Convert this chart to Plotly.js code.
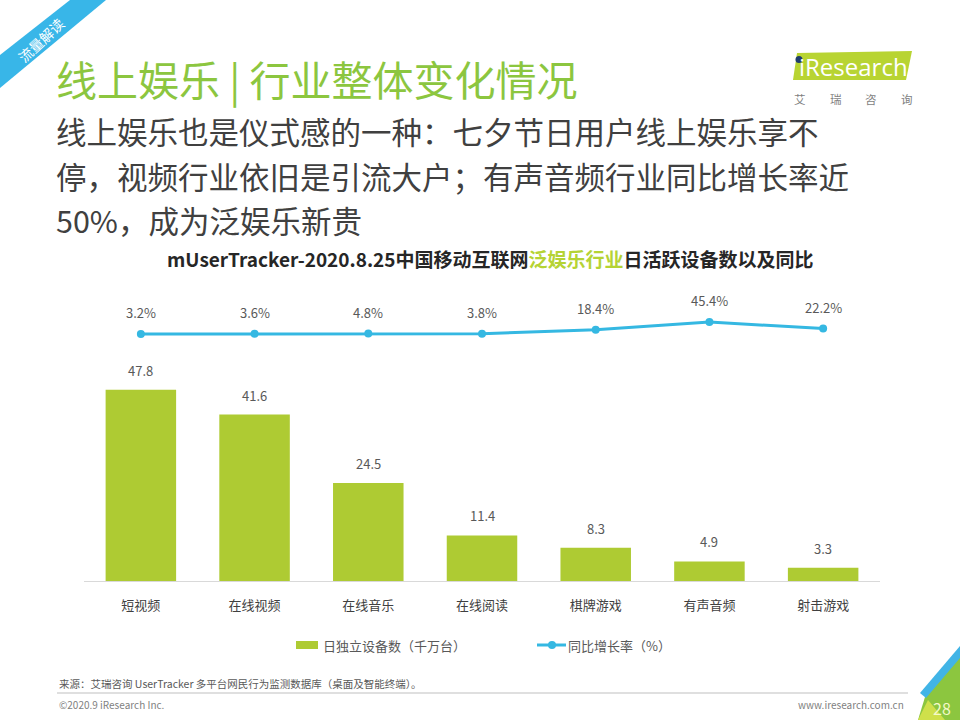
<!DOCTYPE html>
<html>
<head>
<meta charset="utf-8">
<script src="https://cdn.plot.ly/plotly-3.0.1.min.js"></script>
<style>html,body{margin:0;padding:0;background:#fff;}#chart{width:960px;height:720px;}</style>
</head>
<body>
<div id="chart"></div>
<script>
const categories = ['短视频','在线视频','在线音乐','在线阅读','棋牌游戏','有声音频','射击游戏'];
const devices = [47.8, 41.6, 24.5, 11.4, 8.3, 4.9, 3.3];
const growth = [3.2, 3.6, 4.8, 3.8, 18.4, 45.4, 22.2];
const seriesNames = ['日独立设备数（千万台）', '同比增长率（%）'];
const subtitleLines = ['线上娱乐也是仪式感的一种：七夕节日用户线上娱乐享不', '停，视频行业依旧是引流大户；有声音频行业同比增长率近', '50%，成为泛娱乐新贵'];

const W = 960, H = 720;
const L = 84, R = 80, T = 300, B = 139;
const pw = W - L - R, ph = H - T - B;
const px = x => (x - L) / pw;
const py = y => (H - B - y) / ph;

const CJK = '"Noto Sans CJK SC", "Noto Sans", sans-serif';
const GREEN = '#aecb33';
const BLUE = '#35b8e2';
const TXT = '#595959';

const traces = [
  {
    type: 'bar', x: categories, y: devices, name: seriesNames[0],
    marker: {color: GREEN}, width: 0.62, hoverinfo: 'none', showlegend: false
  },
  {
    type: 'scatter', mode: 'lines+markers', x: categories, y: growth, yaxis: 'y2',
    name: seriesNames[1], line: {color: BLUE, width: 3}, marker: {color: BLUE, size: 8},
    hoverinfo: 'none', showlegend: false
  }
];

const ann = [];
categories.forEach((c, i) => {
  ann.push({x: c, y: devices[i], xref: 'x', yref: 'y', text: devices[i].toFixed(1),
    showarrow: false, yanchor: 'bottom', yshift: 8, font: {family: CJK, size: 13, color: TXT}});
  ann.push({x: c, y: growth[i], xref: 'x', yref: 'y2', text: growth[i].toFixed(1) + '%',
    showarrow: false, yanchor: 'bottom', yshift: 10, font: {family: CJK, size: 13, color: TXT}});
});

function txt(x, y, text, size, color, anchor, extra) {
  return Object.assign({xref: 'paper', yref: 'paper', x: px(x), y: py(y), text: text, showarrow: false,
    xanchor: anchor || 'left', yanchor: 'middle', font: {family: CJK, size: size, color: color}}, extra || {});
}

// header
ann.push(txt(54, 78, '线上娱乐 | 行业整体变化情况', 41, '#8cc63f'));
subtitleLines.forEach((s, i) => ann.push(txt(54, 131 + i * 44.5, s, 30.5, '#404040')));
ann.push(txt(490, 258, '<b>mUserTracker-2020.8.25中国移动互联网<span style="color:#b5d334">泛娱乐行业</span>日活跃设备数以及同比</b>', 19, '#262626', 'center'));

// banner
ann.push(txt(41, 40, '流量解读', 14, '#ffffff', 'center', {textangle: -43}));

// logo
ann.push(txt(853, 67, 'iResearch', 24, '#ffffff', 'center', {font: {family: '"Open Sans", sans-serif', size: 24, color: '#ffffff'}}));
['艾','瑞','咨','询'].forEach((ch, i) => ann.push(txt(800 + i * 35.5, 99, ch, 11.5, '#7f7f7f', 'center')));

// legend
ann.push(txt(321, 645, seriesNames[0], 13, TXT));
ann.push(txt(566, 645, seriesNames[1], 13, TXT));

// footer
ann.push(txt(57, 683, '来源：艾瑞咨询 UserTracker 多平台网民行为监测数据库（桌面及智能终端）。', 10.5, '#595959'));
ann.push(txt(57, 704, '©2020.9 iResearch Inc.', 10, '#7f7f7f'));
ann.push(txt(906, 704, 'www.iresearch.com.cn', 10, '#7f7f7f', 'right'));
ann.push(txt(942, 708, '28', 16, '#f4f9c8', 'center'));

function P(pts) { return 'M' + pts.map(p => px(p[0]) + ',' + py(p[1])).join(' L') + ' Z'; }
const shapes = [
  // banner ribbon
  {type: 'path', xref: 'paper', yref: 'paper', path: P([[0,55],[70,0],[106,0],[0,88]]), fillcolor: '#38b6e8', line: {width: 0}},
  // logo parallelogram
  {type: 'path', xref: 'paper', yref: 'paper', path: P([[797,53],[912,51],[906,80],[793,80]]), fillcolor: '#b8d432', line: {width: 0}},
  {type: 'circle', xref: 'paper', yref: 'paper', x0: px(795.5), x1: px(802.5), y0: py(56), y1: py(63), fillcolor: '#1f3c6e', line: {width: 0}},
  // legend swatches
  {type: 'rect', xref: 'paper', yref: 'paper', x0: px(296), x1: px(318), y0: py(649), y1: py(641), fillcolor: GREEN, line: {width: 0}},
  {type: 'line', xref: 'paper', yref: 'paper', x0: px(537), x1: px(566), y0: py(645), y1: py(645), line: {color: BLUE, width: 3}},
  {type: 'circle', xref: 'paper', yref: 'paper', x0: px(548), x1: px(556), y0: py(649), y1: py(641), fillcolor: BLUE, line: {width: 0}},
  // footer rule
  {type: 'line', xref: 'paper', yref: 'paper', x0: px(57), x1: px(908), y0: py(693), y1: py(693), line: {color: '#bfbfbf', width: 1}},
  // corner decoration
  {type: 'path', xref: 'paper', yref: 'paper', path: P([[960,655],[960,720],[918,720],[925,697]]), fillcolor: '#8cc63f', line: {width: 0}},
  {type: 'path', xref: 'paper', yref: 'paper', path: P([[928,700],[945,720],[918,720]]), fillcolor: '#cfe04a', line: {width: 0}},
  {type: 'path', xref: 'paper', yref: 'paper', path: P([[960,646],[960,658],[926,698],[920,693]]), fillcolor: '#41b4e6', line: {width: 0}}
];

const layout = {
  width: W, height: H,
  margin: {l: L, r: R, t: T, b: B, pad: 0},
  paper_bgcolor: '#ffffff', plot_bgcolor: '#ffffff',
  showlegend: false,
  bargap: 0.38,
  xaxis: {
    type: 'category', showline: true, linecolor: '#d9d9d9', linewidth: 1,
    showgrid: false, zeroline: false, ticks: '', ticklabelstandoff: 12,
    tickfont: {family: CJK, size: 13, color: '#404040'}, fixedrange: true
  },
  yaxis: {range: [0, 70.25], visible: false, showgrid: false, zeroline: false, fixedrange: true},
  yaxis2: {range: [-865.4, 122.7], overlaying: 'y', side: 'right', visible: false, showgrid: false, zeroline: false, fixedrange: true},
  annotations: ann,
  shapes: shapes
};

Plotly.newPlot('chart', traces, layout, {staticPlot: true, displayModeBar: false});
</script>
</body>
</html>
